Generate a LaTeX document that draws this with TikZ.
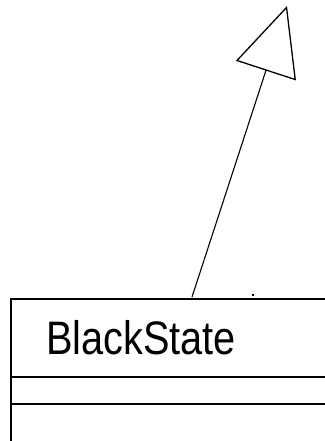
\documentclass[tikz,border=0pt]{standalone}
\usepackage{fontspec}
\setmainfont{Liberation Sans}
\usetikzlibrary{arrows.meta}
\begin{document}
\begin{tikzpicture}[x=1pt,y=-1pt,
  boxline/.style={line width=1.7pt},
  inherit/.style={line width=1.1pt,-{Triangle[open,length=68pt,width=63pt,line width=1.3pt]}}]
\useasboundingbox (0,0) rectangle (324,441);
\node[boxline,draw,anchor=north west,minimum width=340pt,minimum height=170pt,inner sep=0pt] (cls) at (10,298) {};
\node[anchor=base west,inner sep=0pt,font=\fontsize{47}{50}\selectfont] (name) at (46,354) {\scalebox{0.845}[1]{BlackState}};
\draw[boxline] (10,377) -- (340,377);
\draw[boxline] (10,404) -- (340,404);
\coordinate (src) at (192,297);
\coordinate (apex) at (287,6);
\draw[inherit] (src) -- (apex);
\draw[line width=1.4pt] (253,296) -- (253,293.5);
\end{tikzpicture}
\end{document}
